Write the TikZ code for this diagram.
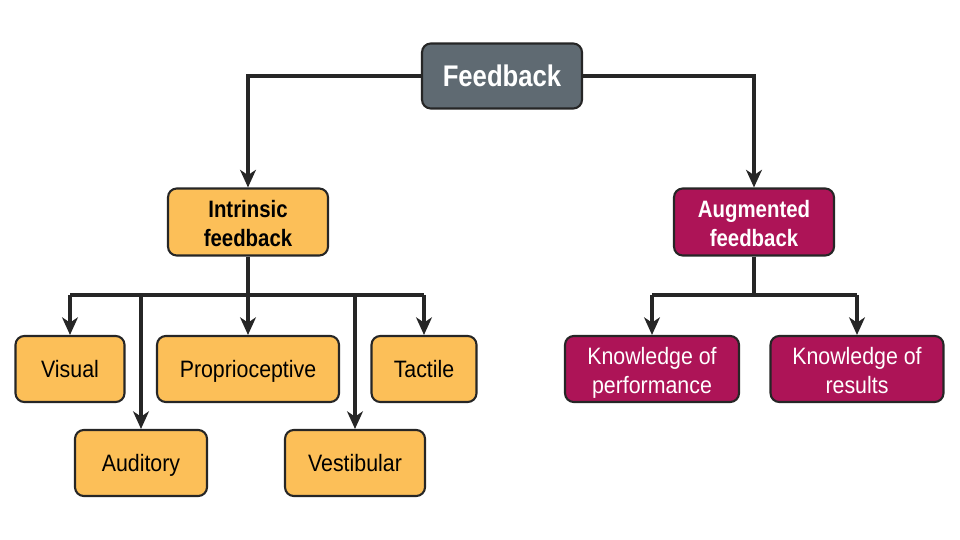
\documentclass[tikz,border=0pt]{standalone}
\usepackage{fontspec}
\setmainfont{Liberation Sans}[FakeStretch=0.9, BoldFeatures={FakeStretch=0.86}]
\usetikzlibrary{arrows.meta,calc}
\definecolor{fbgray}{HTML}{5F6A72}
\definecolor{orng}{HTML}{FCBF58}
\definecolor{crim}{HTML}{AD1457}
\definecolor{ink}{HTML}{262626}
\begin{document}
\begin{tikzpicture}[x=0.02cm,y=-0.02cm,
  box/.style={draw=ink, line width=1.2pt, rounded corners=5pt, align=center,
    minimum height=1.32cm, inner sep=0pt, font=\fontsize{13.5}{16.4}\selectfont},
  one/.style={text height=0.98em, text depth=0pt},
  two/.style={text height=28pt, text depth=0pt},
  obox/.style={box, fill=orng, text=black},
  cbox/.style={box, fill=crim, text=white},
  conn/.style={draw=ink, line width=2pt},
  arr/.style={conn, -{Stealth[length=10pt,width=9pt,inset=3pt]}}
]
\useasboundingbox (0,0) rectangle (960,540);
\node[box, fill=fbgray, text=white, minimum width=3.2cm, minimum height=1.3cm,
  font=\fontsize{17}{20}\selectfont\bfseries, text height=1.18em, text depth=0pt] (fb) at (502,76) {Feedback};
\node[obox, two, minimum width=3.2cm, minimum height=1.34cm, font=\fontsize{13.5}{16.4}\selectfont\bfseries] (intr) at (248,222) {Intrinsic\\feedback};
\node[cbox, two, minimum width=3.2cm, minimum height=1.34cm, font=\fontsize{13.5}{16.4}\selectfont\bfseries] (aug) at (754,222) {Augmented\\feedback};
\node[obox, one, minimum width=2.18cm] (vis) at (70,369) {Visual};
\node[obox, one, minimum width=3.64cm] (pro) at (248,369) {Proprioceptive};
\node[obox, one, minimum width=2.1cm] (tac) at (424,369) {Tactile};
\node[obox, one, minimum width=2.64cm] (aud) at (141,463) {Auditory};
\node[obox, one, minimum width=2.8cm] (ves) at (355,463) {Vestibular};
\node[cbox, two, minimum width=3.48cm] (kop) at (652,369) {Knowledge of\\performance};
\node[cbox, two, minimum width=3.46cm] (kor) at (857,369) {Knowledge of\\results};
% top connectors
\draw[arr] (fb.west) -| (intr.north);
\draw[arr] (fb.east) -| (aug.north);
% intrinsic bus
\coordinate (ib) at (248,295);
\draw[conn] (intr.south) -- (ib);
\draw[conn] (ib -| vis.north) -- (ib -| tac.north);
\draw[arr] (ib -| vis.north) -- (vis.north);
\draw[arr] (ib -| aud.north) -- (aud.north);
\draw[arr] (ib) -- (pro.north);
\draw[arr] (ib -| ves.north) -- (ves.north);
\draw[arr] (ib -| tac.north) -- (tac.north);
% augmented bus
\coordinate (ab) at (754,295);
\draw[conn] (aug.south) -- (ab);
\draw[conn] (ab -| kop.north) -- (ab -| kor.north);
\draw[arr] (ab -| kop.north) -- (kop.north);
\draw[arr] (ab -| kor.north) -- (kor.north);
\end{tikzpicture}
\end{document}
